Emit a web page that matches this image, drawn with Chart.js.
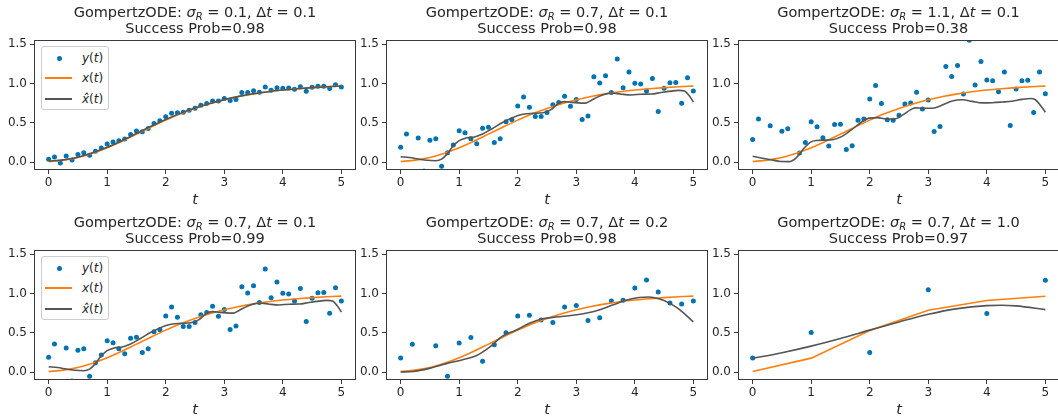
<!DOCTYPE html>
<html><head><meta charset="utf-8">
<script src="https://cdn.jsdelivr.net/npm/chart.js@4"></script>
<style>
html,body{margin:0;padding:0;background:#fff;}
body{width:1058px;height:419px;overflow:hidden;position:relative;font-family:"DejaVu Sans",sans-serif;color:#262626;}
canvas{position:absolute;}
.ttl{position:absolute;text-align:center;font-size:14.5px;line-height:16px;white-space:nowrap;color:#262626;}
.sub{font-size:10px;position:relative;top:3px;}
.leg{position:absolute;width:68px;height:64px;box-sizing:border-box;border:1px solid #cccccc;border-radius:3px;background:#ffffff;}
.leg .dot{position:absolute;width:5px;height:5px;border-radius:50%;background:#0173b2;}
.leg .ln{position:absolute;height:2px;width:27px;}
.leg .lab{position:absolute;font-size:12px;line-height:14px;white-space:nowrap;color:#262626;}
</style>
</head><body>
<script>
// ---------- data ----------
const tFine = [0,0.1,0.2,0.3,0.4,0.5,0.6,0.7,0.8,0.9,1.0,1.1,1.2,1.3,1.4,1.5,1.6,1.7,1.8,1.9,2.0,2.1,2.2,2.3,2.4,2.5,2.6,2.7,2.8,2.9,3.0,3.1,3.2,3.3,3.4,3.5,3.6,3.7,3.8,3.9,4.0,4.1,4.2,4.3,4.4,4.5,4.6,4.7,4.8,4.9,5.0];
const tMid = [0,0.2,0.4,0.6,0.8,1.0,1.2,1.4,1.6,1.8,2.0,2.2,2.4,2.6,2.8,3.0,3.2,3.4,3.6,3.8,4.0,4.2,4.4,4.6,4.8,5.0];
const tCoarse = [0,1,2,3,4,5];
const tCurve = [0,0.25,0.5,0.75,1.0,1.25,1.5,1.75,2.0,2.25,2.5,2.75,3.0,3.25,3.5,3.75,4.0,4.25,4.5,4.75,5.0];

// observations y(t)
const y1 = [0.038,0.068,-0.008,0.08,0.03,0.10,0.122,0.089,0.139,0.181,0.232,
            0.257,0.274,0.295,0.354,0.397,0.388,0.43,0.494,0.527,0.578,
            0.624,0.629,0.637,0.662,0.688,0.726,0.747,0.78,0.78,0.81,
            0.785,0.80,0.886,0.886,0.911,0.89,0.958,0.916,0.949,0.941,
            0.945,0.928,0.962,0.903,0.954,0.966,0.966,0.937,0.987,0.958];
const y2 = [0.19,0.36,-0.26,0.31,-0.11,0.28,0.30,-0.05,0.12,0.22,0.40,
            0.375,0.30,0.236,0.434,0.447,0.253,0.30,0.514,0.54,0.717,
            0.831,0.70,0.582,0.582,0.634,0.733,0.759,0.839,0.713,0.797,
            0.544,0.590,1.088,1.008,1.101,0.886,1.312,0.949,1.147,1.004,
            0.995,0.907,1.067,0.645,0.941,1.012,1.016,0.751,1.076,0.907];
const y3 = [0.29,0.552,-0.43,0.464,-0.17,0.396,0.426,-0.135,0.118,0.253,0.514,
            0.451,0.312,0.206,0.481,0.485,0.164,0.21,0.535,0.552,0.806,
            0.975,0.746,0.54,0.535,0.599,0.742,0.755,0.890,0.678,0.793,
            0.392,0.455,1.219,1.092,1.231,0.869,1.552,0.983,1.282,1.046,
            1.037,0.898,1.147,0.468,0.932,1.037,1.042,0.633,1.147,0.873];
const y4 = y2;
const y5 = [0.181,0.358,-0.24,0.337,-0.051,0.371,0.443,0.139,0.35,0.502,0.717,0.725,0.666,
            0.632,0.83,0.848,0.658,0.692,0.907,0.915,1.071,1.172,1.020,0.882,0.869,0.907];
const y6 = [0.181,0.506,0.253,1.05,0.747,1.169];

// true state x(t)
const xTrue = [0.010,0.028,0.061,0.114,0.184,0.267,0.358,0.449,0.536,0.616,0.685,0.745,0.795,0.836,0.870,0.897,0.919,0.936,0.950,0.961,0.969];
const xTrueCoarse = [0.01,0.18,0.53,0.79,0.913,0.967];

// estimates x_hat(t)
const tHat1 = tCurve;
const xHat1 = [0.015,0.031,0.065,0.12,0.19,0.275,0.366,0.458,0.545,0.622,0.69,0.748,0.797,0.838,0.871,0.898,0.919,0.936,0.95,0.961,0.969];
const tHat2 = [0,0.15,0.3,0.45,0.6,0.7,0.8,0.9,1.0,1.12,1.26,1.4,1.57,1.74,1.91,2.09,2.26,2.43,2.57,2.69,2.8,2.92,3.03,3.15,3.26,3.37,3.49,3.6,3.77,3.94,4.11,4.28,4.45,4.62,4.75,4.85,4.93,5.0];
const xHat2 = [0.07,0.06,0.042,0.025,0.02,0.04,0.11,0.21,0.275,0.31,0.322,0.36,0.43,0.505,0.568,0.61,0.622,0.63,0.67,0.745,0.772,0.762,0.755,0.752,0.79,0.832,0.866,0.882,0.866,0.856,0.866,0.868,0.888,0.905,0.914,0.905,0.845,0.765];
const tHat3 = [0,0.31,0.48,0.62,0.74,0.88,0.99,1.1,1.22,1.36,1.5,1.68,1.85,1.99,2.13,2.28,2.42,2.56,2.7,2.78,2.9,3.07,3.24,3.41,3.58,3.75,3.92,4.09,4.26,4.43,4.6,4.75,4.83,4.92,5.0];
const xHat3 = [0.076,0.033,0.01,0.008,0.054,0.181,0.257,0.278,0.282,0.286,0.32,0.409,0.506,0.562,0.568,0.55,0.55,0.6,0.67,0.692,0.688,0.688,0.728,0.78,0.795,0.775,0.755,0.758,0.766,0.776,0.8,0.812,0.795,0.72,0.637];
const tHat4 = tHat2;
const xHat4 = xHat2;
const tHat5 = [0,0.21,0.49,0.78,1.06,1.29,1.52,1.74,1.97,2.2,2.43,2.65,2.94,3.16,3.39,3.62,3.85,4.07,4.24,4.41,4.59,4.76,5.0];
const xHat5 = [0.004,0.01,0.05,0.11,0.16,0.21,0.32,0.46,0.535,0.625,0.68,0.703,0.725,0.75,0.792,0.855,0.915,0.952,0.958,0.935,0.88,0.8,0.64];
const tHat6 = [0,0.5,1,1.5,2,2.5,3,3.5,4,4.25,4.5,5];
const xHat6 = [0.177,0.249,0.333,0.43,0.536,0.64,0.738,0.81,0.848,0.853,0.844,0.797];

const xTicks = [0,1,2,3,4,5];
const yTicks = [0,0.5,1.0,1.5];
const sigmas = ['0.1','0.7','1.1','0.7','0.7','0.7'];
const dts = ['0.1','0.1','0.1','0.1','0.2','1.0'];
const probs = ['0.98','0.98','0.38','0.99','0.98','0.97'];

// ---------- layout ----------
const colL = [34, 386, 737.5];
const rowT = [40, 250];
const axW = 322, axH = 130;
const C_BLUE = '#0173b2', C_ORANGE = '#ff7f0e', C_GRAY = '#555555', C_TEXT = '#262626', C_FRAME = '#3a3a3a';

const panels = [
  {c:0,r:0, ty:tFine, y:y1, tx:tCurve, x:xTrue, th:tHat1, xh:xHat1, leg:true, smoothX:true},
  {c:1,r:0, ty:tFine, y:y2, tx:tCurve, x:xTrue, th:tHat2, xh:xHat2, leg:false, smoothX:true},
  {c:2,r:0, ty:tFine, y:y3, tx:tCurve, x:xTrue, th:tHat3, xh:xHat3, leg:false, smoothX:true},
  {c:0,r:1, ty:tFine, y:y4, tx:tCurve, x:xTrue, th:tHat4, xh:xHat4, leg:true, smoothX:true},
  {c:1,r:1, ty:tMid, y:y5, tx:tCurve, x:xTrue, th:tHat5, xh:xHat5, leg:false, smoothX:true},
  {c:2,r:1, ty:tCoarse, y:y6, tx:tCoarse, x:xTrueCoarse, th:tHat6, xh:xHat6, leg:false, smoothX:false}
];

Chart.defaults.font.family = '"DejaVu Sans", sans-serif';
Chart.defaults.color = C_TEXT;

const framePlugin = {
  id: 'frame',
  afterDraw(chart) {
    const a = chart.chartArea, ctx = chart.ctx;
    ctx.save();
    ctx.strokeStyle = C_FRAME;
    ctx.lineWidth = 1;
    ctx.strokeRect(Math.round(a.left) + 0.5, Math.round(a.top) + 0.5, Math.round(a.right - a.left) - 1, Math.round(a.bottom - a.top) - 1);
    ctx.restore();
  }
};

function pairs(ts, vs) { return ts.map((t, i) => ({x: t, y: vs[i]})); }

function addTitle(p, i) {
  const L = colL[p.c], T = rowT[p.r];
  const d1 = document.createElement('div');
  d1.className = 'ttl';
  d1.style.left = L + 'px'; d1.style.width = axW + 'px'; d1.style.top = (T - 36) + 'px';
  d1.innerHTML = 'GompertzODE: <i>σ</i><span class="sub"><i>R</i></span> = ' + sigmas[i] + ', Δ<i>t</i> = ' + dts[i];
  document.body.appendChild(d1);
  const d2 = document.createElement('div');
  d2.className = 'ttl';
  d2.style.left = L + 'px'; d2.style.width = axW + 'px'; d2.style.top = (T - 20) + 'px';
  d2.textContent = 'Success Prob=' + probs[i];
  document.body.appendChild(d2);
}

function addLegend(p) {
  const L = colL[p.c], T = rowT[p.r];
  const box = document.createElement('div');
  box.className = 'leg';
  box.style.left = (L + 7) + 'px'; box.style.top = (T + 6) + 'px';
  const dot = document.createElement('div'); dot.className = 'dot';
  dot.style.left = '14.5px'; dot.style.top = '8.5px'; box.appendChild(dot);
  const l1 = document.createElement('div'); l1.className = 'ln';
  l1.style.left = '3px'; l1.style.top = '30px'; l1.style.backgroundColor = C_ORANGE; box.appendChild(l1);
  const l2 = document.createElement('div'); l2.className = 'ln';
  l2.style.left = '3px'; l2.style.top = '51px'; l2.style.backgroundColor = C_GRAY; box.appendChild(l2);
  const labs = ['<i>y</i>(<i>t</i>)', '<i>x</i>(<i>t</i>)', '<i>x̂</i>(<i>t</i>)'];
  labs.forEach((h, k) => {
    const d = document.createElement('div'); d.className = 'lab';
    d.style.left = '40px'; d.style.top = (3.5 + 20.5 * k) + 'px'; d.innerHTML = h; box.appendChild(d);
  });
  document.body.appendChild(box);
}

panels.forEach((p, i) => {
  const cv = document.createElement('canvas');
  const W = 34 + axW + 8, H = 210;
  cv.width = W; cv.height = H;
  cv.style.width = W + 'px'; cv.style.height = H + 'px';
  cv.style.left = (colL[p.c] - 34) + 'px';
  cv.style.top = (rowT[p.r] - 40) + 'px';
  document.body.appendChild(cv);

  new Chart(cv.getContext('2d'), {
    type: 'line',
    data: {
      datasets: [
        {label: 'xhat', data: pairs(p.th, p.xh), borderColor: C_GRAY, borderWidth: 1.6, pointRadius: 0,
         cubicInterpolationMode: 'monotone', fill: false, order: 0},
        {label: 'x', data: pairs(p.tx, p.x), borderColor: C_ORANGE, borderWidth: 1.6, pointRadius: 0,
         cubicInterpolationMode: p.smoothX ? 'monotone' : 'default', tension: 0, fill: false, order: 1},
        {label: 'y', data: pairs(p.ty, p.y), showLine: false, pointRadius: 2.5, pointBorderWidth: 0,
         pointBackgroundColor: C_BLUE, pointBorderColor: C_BLUE, order: 2}
      ]
    },
    options: {
      responsive: false, animation: false, devicePixelRatio: 1,
      layout: {padding: {left: 0, right: 8, top: 40, bottom: 0}},
      plugins: {legend: {display: false}, tooltip: {enabled: false}, title: {display: false}},
      scales: {
        x: {
          type: 'linear', min: -0.25, max: 5.25,
          afterBuildTicks: s => { s.ticks = xTicks.map(v => ({value: v})); },
          afterFit: s => { s.height = 40; },
          ticks: {font: {size: 12}, color: C_TEXT, padding: 2, maxRotation: 0, callback: v => String(v)},
          grid: {display: true, drawOnChartArea: false, drawTicks: true, tickLength: 4, tickColor: C_FRAME, tickWidth: 1},
          border: {display: false},
          title: {display: true, text: 't', color: C_TEXT, font: {size: 14.5, style: 'italic'}, padding: {top: 0, bottom: 1}}
        },
        y: {
          type: 'linear', min: -0.098, max: 1.555,
          afterBuildTicks: s => { s.ticks = yTicks.map(v => ({value: v})); },
          afterFit: s => { s.width = 34; },
          ticks: {font: {size: 12}, color: C_TEXT, padding: 3, callback: v => Number(v).toFixed(1)},
          grid: {display: true, drawOnChartArea: false, drawTicks: true, tickLength: 4, tickColor: C_FRAME, tickWidth: 1},
          border: {display: false}
        }
      }
    },
    plugins: [framePlugin]
  });

  addTitle(p, i);
  if (p.leg) addLegend(p);
});
</script>
</body></html>
